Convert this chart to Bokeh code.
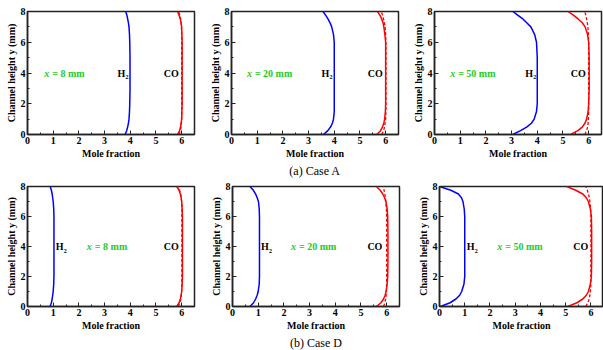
from bokeh.plotting import figure
from bokeh.models import Range1d, FixedTicker, Title, GlobalInlineStyleSheet
from bokeh.layouts import column, row
from bokeh.core.properties import value
from bokeh.embed import file_html
from bokeh.resources import INLINE

# ---------------- data ----------------
Y_PTS = [0, 0.25, 0.5, 0.75, 1.0, 1.5, 2, 3, 4, 5, 6, 6.5, 7, 7.25, 7.5, 7.75, 8]

# Case A
A8_H2 = [3.80, 3.86, 3.90, 3.93, 3.95, 3.97, 3.98, 3.99, 3.99, 3.99, 3.98, 3.97, 3.95, 3.93, 3.90, 3.87, 3.82]
A8_CO = [5.84, 5.92, 5.96, 5.98, 6.00, 6.01, 6.02, 6.02, 6.02, 6.02, 6.02, 6.01, 6.00, 5.98, 5.95, 5.90, 5.84]
A8_CO_D = [5.90, 5.95, 5.98, 5.99, 6.00, 6.00, 6.00, 6.00, 6.00, 6.00, 6.00, 6.00, 5.99, 5.98, 5.96, 5.93, 5.88]

A20_H2 = [3.58, 3.75, 3.86, 3.93, 3.97, 4.00, 4.00, 4.00, 4.00, 4.00, 4.00, 3.97, 3.90, 3.84, 3.76, 3.67, 3.56]
A20_CO = [5.65, 5.80, 5.88, 5.93, 5.96, 5.99, 6.00, 6.00, 6.00, 6.00, 6.00, 5.97, 5.93, 5.90, 5.85, 5.78, 5.68]
A20_CO_D = [5.85, 5.92, 5.96, 5.98, 6.00, 6.01, 6.01, 6.01, 6.01, 6.01, 6.01, 6.00, 5.98, 5.95, 5.92, 5.88, 5.83]

A50_H2 = [3.05, 3.35, 3.60, 3.78, 3.88, 3.97, 4.00, 4.00, 4.00, 4.00, 3.97, 3.90, 3.75, 3.60, 3.45, 3.25, 3.05]
A50_CO = [5.30, 5.58, 5.76, 5.86, 5.92, 5.98, 6.00, 6.02, 6.02, 6.02, 6.00, 5.96, 5.86, 5.76, 5.60, 5.42, 5.20]
A50_CO_D = [5.85, 5.92, 5.96, 5.98, 5.99, 6.00, 6.00, 6.00, 6.00, 6.00, 6.00, 5.99, 5.97, 5.95, 5.92, 5.89, 5.85]

# Case D
D8_H2 = [0.88, 0.93, 0.96, 0.98, 1.00, 1.02, 1.03, 1.03, 1.03, 1.03, 1.03, 1.02, 1.00, 0.98, 0.96, 0.93, 0.88]
D8_CO = [5.81, 5.90, 5.95, 5.98, 6.00, 6.02, 6.03, 6.03, 6.03, 6.03, 6.03, 6.02, 6.00, 5.98, 5.95, 5.90, 5.81]
D8_CO_D = [5.87, 5.93, 5.97, 5.99, 6.00, 6.01, 6.01, 6.01, 6.01, 6.01, 6.01, 6.01, 6.00, 5.98, 5.96, 5.92, 5.86]

D20_H2 = [0.68, 0.82, 0.90, 0.96, 1.00, 1.04, 1.05, 1.05, 1.05, 1.05, 1.05, 1.04, 1.01, 0.96, 0.90, 0.81, 0.68]
D20_CO = [5.60, 5.78, 5.88, 5.94, 5.98, 6.02, 6.04, 6.05, 6.05, 6.05, 6.04, 6.02, 5.97, 5.92, 5.85, 5.75, 5.60]
D20_CO_D = [5.88, 5.93, 5.96, 5.98, 5.99, 6.00, 6.00, 6.00, 6.00, 6.00, 6.00, 5.99, 5.97, 5.95, 5.93, 5.90, 5.86]

D50_H2 = [0.04, 0.42, 0.65, 0.80, 0.88, 0.97, 1.00, 1.00, 1.00, 1.00, 1.00, 0.98, 0.93, 0.87, 0.75, 0.45, 0.00]
D50_CO = [5.08, 5.45, 5.68, 5.82, 5.90, 5.98, 6.02, 6.03, 6.03, 6.03, 6.02, 5.98, 5.90, 5.82, 5.68, 5.40, 5.04]
D50_CO_D = [5.80, 5.88, 5.93, 5.96, 5.98, 6.00, 6.00, 6.00, 6.00, 6.00, 6.00, 5.99, 5.96, 5.94, 5.90, 5.86, 5.80]

X_TICKS = [0, 1, 2, 3, 4, 5, 6]
X_MINOR = [0.5, 1.5, 2.5, 3.5, 4.5, 5.5]
Y_TICKS = [0, 2, 4, 6, 8]
Y_MINOR = [1, 3, 5, 7]

POS_LABELS = ["x = 8 mm", "x = 20 mm", "x = 50 mm"]
CAPTIONS = ["(a) Case A", "(b) Case D"]

FONT = "Liberation Serif"
BLUE = "#0000ff"
RED = "#ff0000"
GREEN = "#22cc22"


def panel(width, height, bl, br, bt, bb, h2, co, co_d, xpos_text, x_lab_start,
          h_start, co_start, caption=None):
    p = figure(width=width, height=height, output_backend="svg", toolbar_location=None,
               x_range=Range1d(0, 6.5), y_range=Range1d(0, 8),
               min_border_left=bl, min_border_right=br, min_border_top=bt,
               min_border_bottom=bb)
    p.grid.visible = False
    p.outline_line_color = "#222222"
    p.outline_line_width = 1.5
    p.background_fill_color = "white"
    p.border_fill_color = "white"

    p.line(h2, Y_PTS, line_color=BLUE, line_width=1.5)
    p.line(co_d, Y_PTS, line_color=RED, line_width=1.3, line_dash="3 2")
    p.line(co, Y_PTS, line_color=RED, line_width=1.5)

    for ax in (p.xaxis[0], p.yaxis[0]):
        ax.axis_line_color = "#222222"
        ax.axis_line_width = 1.5
        ax.major_tick_in = 4
        ax.major_tick_out = 0
        ax.minor_tick_in = 2
        ax.minor_tick_out = 0
        ax.major_tick_line_color = "#222222"
        ax.minor_tick_line_color = "#222222"
        ax.major_label_text_font = FONT
        ax.major_label_text_font_style = "bold"
        ax.major_label_text_font_size = "10px"
        ax.major_label_text_color = "black"
        ax.major_label_standoff = 2
        ax.axis_label_text_font = FONT
        ax.axis_label_text_font_style = "bold"
        ax.axis_label_text_font_size = "10px"
        ax.axis_label_text_color = "black"
        ax.axis_label_standoff = 1
    p.xaxis[0].ticker = FixedTicker(ticks=X_TICKS, minor_ticks=X_MINOR)
    p.yaxis[0].ticker = FixedTicker(ticks=Y_TICKS, minor_ticks=Y_MINOR)
    p.xaxis[0].axis_label = "Mole fraction"
    p.yaxis[0].axis_label = "Channel height y (mm)"

    # in-plot labels
    p.text(x=[x_lab_start], y=[4], text=["x"], text_font=value(FONT),
           text_font_style="bold italic", text_font_size="10px", text_color=GREEN,
           text_baseline="middle", text_align="left")
    p.text(x=[x_lab_start], y=[4], text=[xpos_text[2:]], x_offset=8,
           text_font=value(FONT), text_font_style="bold", text_font_size="10px",
           text_color=GREEN, text_baseline="middle", text_align="left")
    p.text(x=[h_start], y=[4], text=["H"], text_font=value(FONT),
           text_font_style="bold", text_font_size="10px", text_color="black",
           text_baseline="middle", text_align="left")
    p.text(x=[h_start], y=[4], text=["2"], x_offset=8, y_offset=4, text_font=value(FONT),
           text_font_style="bold", text_font_size="6px", text_color="black",
           text_baseline="middle", text_align="left")
    p.text(x=[co_start], y=[4], text=["CO"], text_font=value(FONT),
           text_font_style="bold", text_font_size="10px", text_color="black",
           text_baseline="middle", text_align="left")

    if caption:
        p.add_layout(Title(text=caption, align="center", text_font=FONT,
                           text_font_size="12px", text_font_style="normal",
                           text_color="black", standoff=1, offset=0), "below")
    return p


f1 = panel(204, 178, 27, 10, 11, 44, A8_H2, A8_CO, A8_CO_D, POS_LABELS[0], 0.65, 3.5, 5.3)
f2 = panel(203, 178, 27, 9, 11, 44, A20_H2, A20_CO, A20_CO_D, POS_LABELS[1], 0.6, 3.5, 5.3,
           caption=CAPTIONS[0])
f3 = panel(196, 178, 27, 2, 11, 44, A50_H2, A50_CO, A50_CO_D, POS_LABELS[2], 0.61, 3.53, 5.3)

f4 = panel(205, 172, 27, 11, 8, 41, D8_H2, D8_CO, D8_CO_D, POS_LABELS[0], 2.31, 1.1, 5.3)
f5 = panel(207, 172, 27, 13, 8, 41, D20_H2, D20_CO, D20_CO_D, POS_LABELS[1], 2.28, 1.11, 5.25,
           caption=CAPTIONS[1])
f6 = panel(191, 172, 27, 0, 8, 41, D50_H2, D50_CO, D50_CO_D, POS_LABELS[2], 2.29, 1.08, 5.3)

layout = column(row(f1, f2, f3), row(f4, f5, f6),
                stylesheets=[GlobalInlineStyleSheet(css="body { margin: 0 !important; overflow: hidden; }")])

open("out.html", "w").write(file_html(layout, INLINE))
